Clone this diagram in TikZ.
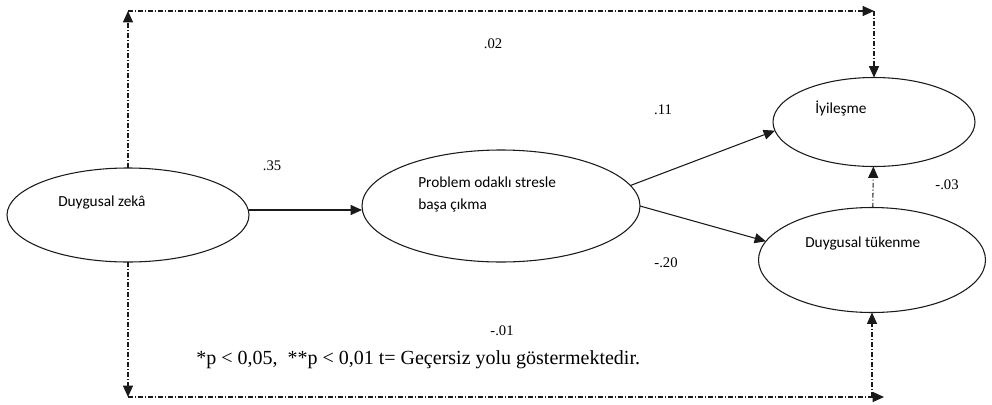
\documentclass[tikz,border=0pt]{standalone}
\usepackage{fontspec}
\setmainfont{Liberation Serif}
\newfontfamily\ellfont{Carlito}
\usetikzlibrary{shapes.geometric,arrows.meta}
\definecolor{ink}{HTML}{1A1A1A}
\tikzset{
  latent/.style={draw=ink, ellipse, line width=0.8pt, inner sep=0pt, outer sep=0pt},
  link/.style={draw=ink, line width=0.8pt, -{Triangle[length=8.5pt,width=7.5pt]}},
  nslink/.style={link, dash pattern=on 3.5pt off 1.6pt on 0.8pt off 1.6pt},
  vname/.style={font=\ellfont\fontsize{11.5}{17}\selectfont, align=left, anchor=west, inner sep=0pt},
  coef/.style={font=\fontsize{11}{12}\selectfont, inner sep=0pt},
  note/.style={font=\fontsize{15}{17}\selectfont, anchor=west, inner sep=0pt}
}

\begin{document}
\begin{tikzpicture}[x=0.75pt,y=-0.75pt]
  \useasboundingbox (0,0) rectangle (992,404);

  % latent variables
  \node[latent, minimum width=181.5pt, minimum height=70.5pt] (dz) at (128,215) {};
  \node[latent, minimum width=208.5pt, minimum height=84pt] (pc) at (501,206) {};
  \node[latent, minimum width=151.5pt, minimum height=66.75pt] (iy) at (874,122) {};
  \node[latent, minimum width=170.25pt, minimum height=78.75pt] (dt) at (872,260) {};

  \node[vname] (dzt) at (58,202) {Duygusal zekâ};
  \node[vname] (pct) at (418,194.5) {Problem odaklı stresle\\başa çıkma};
  \node[vname] (iyt) at (815,109) {İyileşme};
  \node[vname] (dtt) at (805,243) {Duygusal tükenme};

  % corners of the non-significant paths
  \coordinate (tl) at (128,11);
  \coordinate (tr) at (874,11);
  \coordinate (bl) at (128,397);
  \coordinate (bv) at (872,397);
  \coordinate (br) at (884,397);

  \draw[link] ([yshift=3.75pt]dz.east) -- ([yshift=-3pt]pc.west);
  \draw[link] (pc.9) -- (iy.185);
  \draw[link] (pc.east) -- (dt.170);

  \draw[nslink] (dz) -- (tl);
  \draw[nslink] (tl) -- (tr);
  \draw[nslink] (tr) -- (iy);
  \draw[nslink] (dz) -- (bl);
  \draw[nslink] (bl) -- (br);
  \draw[nslink] (bv) -- (dt);
  \draw[nslink] (dt) -- (iy);

  % coefficients
  \node[coef] (c1) at (272,166) {.35};
  \node[coef] (c2) at (493,44) {.02};
  \node[coef] (c3) at (663,110) {.11};
  \node[coef] (c4) at (947,185) {-.03};
  \node[coef] (c5) at (666,263) {-.20};
  \node[coef] (c6) at (502,331) {-.01};

  \node[note] (nt) at (196,360) {*p < 0,05,\ \ **p < 0,01 t= Geçersiz yolu göstermektedir.};
\end{tikzpicture}
\end{document}
